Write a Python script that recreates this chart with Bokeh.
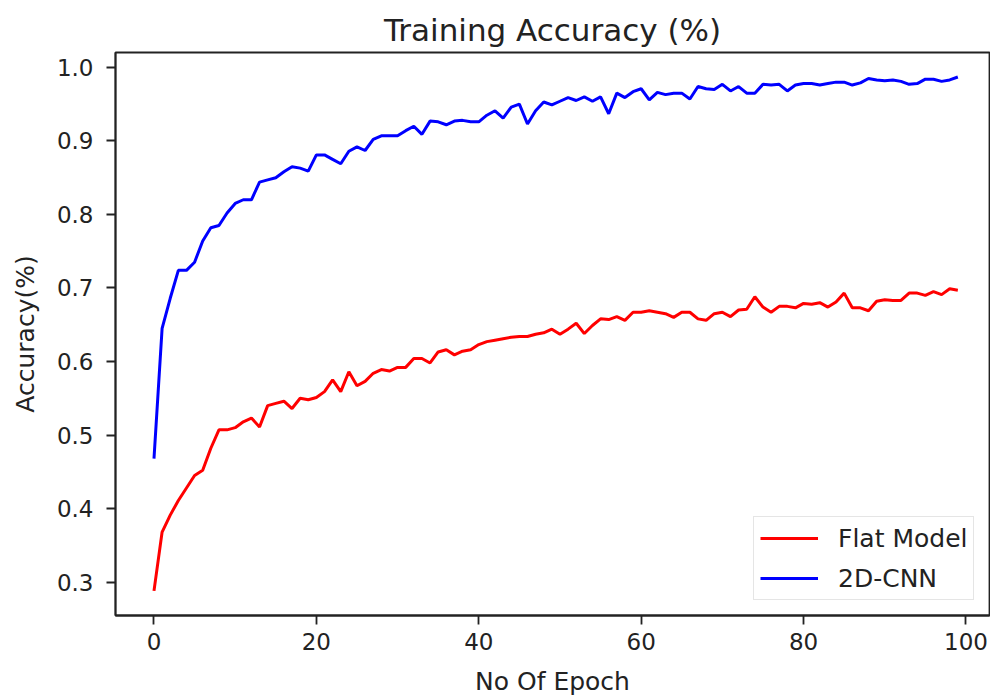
from bokeh.plotting import figure
from bokeh.models import Range1d, FixedTicker, Legend, LegendItem
from bokeh.embed import file_html
from bokeh.resources import INLINE

epochs = list(range(100))

flat_model = [
    0.288, 0.368, 0.391, 0.411, 0.428, 0.445, 0.452, 0.482, 0.507, 0.507,
    0.510, 0.518, 0.523, 0.511, 0.540, 0.543, 0.546, 0.536, 0.550, 0.548,
    0.551, 0.559, 0.575, 0.559, 0.586, 0.567, 0.573, 0.584, 0.589, 0.587,
    0.592, 0.592, 0.604, 0.604, 0.598, 0.613, 0.616, 0.609, 0.614, 0.616,
    0.623, 0.627, 0.629, 0.631, 0.633, 0.634, 0.634, 0.637, 0.639, 0.644,
    0.637, 0.644, 0.652, 0.638, 0.649, 0.658, 0.657, 0.661, 0.656, 0.667,
    0.667, 0.669, 0.667, 0.665, 0.660, 0.667, 0.667, 0.658, 0.656, 0.665,
    0.667, 0.661, 0.670, 0.671, 0.688, 0.674, 0.667, 0.675, 0.675, 0.673,
    0.679, 0.678, 0.680, 0.674, 0.681, 0.693, 0.673, 0.673, 0.669, 0.682,
    0.684, 0.683, 0.683, 0.693, 0.693, 0.690, 0.695, 0.691, 0.699, 0.697,
]

cnn_2d = [
    0.468, 0.645, 0.686, 0.724, 0.724, 0.735, 0.764, 0.782, 0.785, 0.802,
    0.815, 0.820, 0.820, 0.844, 0.847, 0.850, 0.858, 0.865, 0.863, 0.859,
    0.881, 0.881, 0.875, 0.869, 0.886, 0.892, 0.887, 0.902, 0.907, 0.907,
    0.907, 0.914, 0.920, 0.909, 0.927, 0.926, 0.922, 0.927, 0.928, 0.926,
    0.926, 0.935, 0.941, 0.931, 0.946, 0.950, 0.923, 0.941, 0.953, 0.949,
    0.954, 0.959, 0.955, 0.960, 0.954, 0.960, 0.937, 0.965, 0.959, 0.967,
    0.971, 0.956, 0.966, 0.963, 0.965, 0.965, 0.957, 0.974, 0.971, 0.970,
    0.977, 0.968, 0.974, 0.965, 0.965, 0.977, 0.976, 0.977, 0.968, 0.976,
    0.978, 0.978, 0.976, 0.978, 0.980, 0.980, 0.976, 0.979, 0.985, 0.983,
    0.982, 0.983, 0.981, 0.977, 0.978, 0.984, 0.984, 0.981, 0.983, 0.987,
]

x_ticks = [0, 20, 40, 60, 80, 100]
y_ticks = [0.3, 0.4, 0.5, 0.6, 0.7, 0.8, 0.9, 1.0]
y_tick_labels = ["0.3", "0.4", "0.5", "0.6", "0.7", "0.8", "0.9", "1.0"]

FONT = "DejaVu Sans"
INK = "#222222"

p = figure(
    width=990, height=700,
    output_backend="svg", toolbar_location=None,
    x_range=Range1d(-4.74, 102.9), y_range=Range1d(0.2545, 1.0203),
    title="Training Accuracy (%)",
    min_border_left=115, min_border_right=1, min_border_top=52, min_border_bottom=85,
)
p.background_fill_color = "white"
p.border_fill_color = "white"
p.outline_line_color = INK
p.outline_line_width = 1.8
p.xgrid.visible = False
p.ygrid.visible = False

p.title.align = "center"
p.title.text_font = FONT
p.title.text_font_size = "31px"
p.title.text_font_style = "normal"
p.title.text_color = INK
p.title.standoff = 10

for ax in (p.xaxis[0], p.yaxis[0]):
    ax.axis_line_color = INK
    ax.axis_line_width = 1.8
    ax.major_tick_in = 0
    ax.major_tick_out = 9
    ax.major_tick_line_width = 1.8
    ax.major_tick_line_color = INK
    ax.minor_tick_line_color = None
    ax.major_label_text_font = FONT
    ax.major_label_text_font_size = "23px"
    ax.major_label_text_color = INK
    ax.axis_label_text_font = FONT
    ax.axis_label_text_font_size = "25px"
    ax.axis_label_text_font_style = "normal"
    ax.axis_label_text_color = INK

p.xaxis.ticker = FixedTicker(ticks=x_ticks)
p.yaxis.ticker = FixedTicker(ticks=y_ticks)
p.yaxis.major_label_overrides = {t: s for t, s in zip(y_ticks, y_tick_labels)}
p.xaxis.axis_label = "No Of Epoch"
p.yaxis.axis_label = "Accuracy(%)"
p.xaxis.major_label_standoff = 8
p.yaxis.major_label_standoff = 13
p.xaxis.axis_label_standoff = 14
p.yaxis.axis_label_standoff = 14

r_flat = p.line(epochs, flat_model, line_color="#ff0000", line_width=3)
r_cnn = p.line(epochs, cnn_2d, line_color="#0000ff", line_width=3)

legend = Legend(
    items=[LegendItem(label="Flat Model", renderers=[r_flat]),
           LegendItem(label="2D-CNN", renderers=[r_cnn])],
    location=(638, 15),
    label_text_font=FONT,
    label_text_font_size="25px",
    label_text_color=INK,
    label_height=30,
    glyph_height=30,
    glyph_width=58,
    label_standoff=20,
    spacing=10,
    padding=6,
    border_line_color="#cccccc",
    border_line_width=1.5,
    background_fill_alpha=0.8,
)
p.add_layout(legend)

open("out.html", "w").write(file_html(p, INLINE))
